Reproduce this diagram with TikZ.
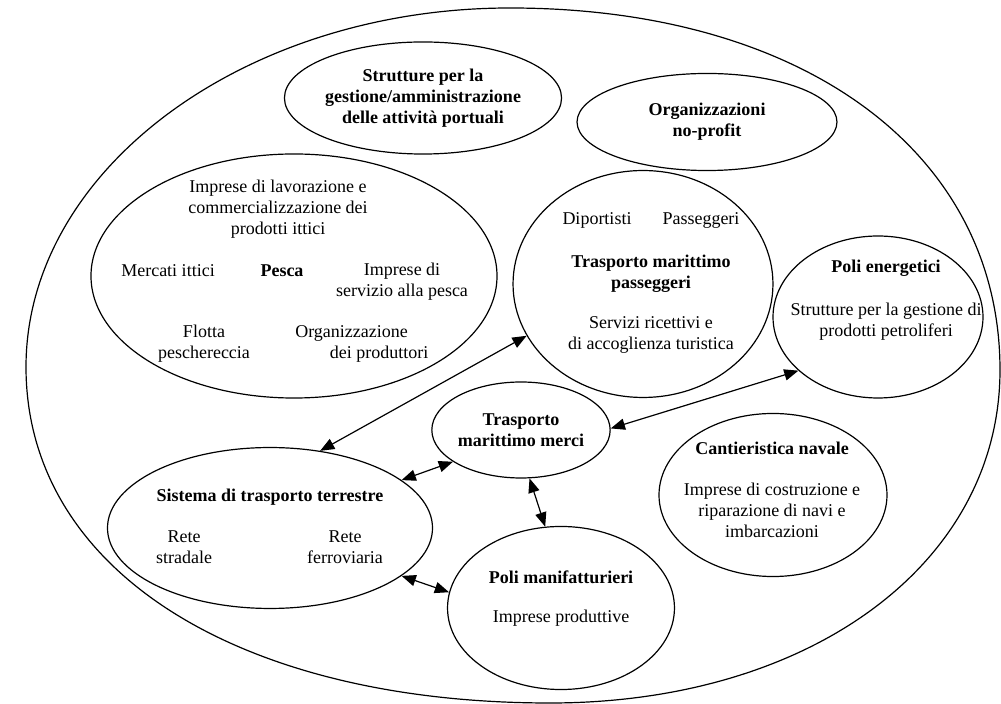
\documentclass[tikz,border=0pt]{standalone}
\usepackage{fontspec}
\setmainfont{Liberation Serif}
\usetikzlibrary{arrows.meta,shapes.geometric}
\tikzset{
  bubble/.style 2 args={
    ellipse, draw=black, line width=0.8pt, inner sep=0pt,
    minimum width=#1, minimum height=#2, align=center,
    font=\fontsize{12}{14}\selectfont\bfseries
  },
  bubtext/.style={inner sep=0pt, align=center, font=\fontsize{12}{14}\selectfont},
  bubtitle/.style={bubtext, font=\fontsize{12}{14}\selectfont\bfseries},
  linkarrow/.style={{Triangle[length=9.5pt,width=7.5pt]}-{Triangle[length=9.5pt,width=7.5pt]}, line width=0.8pt}
}
\begin{document}
\begin{tikzpicture}[x=0.6667pt,y=-0.6667pt]
\useasboundingbox (0,0) rectangle (1001,704);
% porto
\draw[line width=0.8pt] (510,8) .. controls (804,8) and (1000,153) .. (1000,370)
  .. controls (1000,563) and (811,703) .. (550,703)
  .. controls (236,703) and (26,569) .. (26,367)
  .. controls (26,170) and (244,8) .. cycle;

\node[bubble={162pt}{74.7pt}] (gestione) at (423,98) {Strutture per la\\gestione/amministrazione\\delle attività portuali};
\node[bubble={173.3pt}{64.7pt}] (noprofit) at (707,122) {Organizzazioni\\no-profit};

% pesca
\node[bubble={270.7pt}{162.7pt}] (pesca) at (294,276) {};
\node[bubtext] (lavoraz) at (278,209) {Imprese di lavorazione e\\commercializzazione dei\\prodotti ittici};
\node[bubtext] (mercati) at (168,271) {Mercati ittici};
\node[bubtitle] (pescaT) at (282,271) {Pesca};
\node[bubtext] (servpesca) at (402,281.5) {Imprese di\\servizio alla pesca};
\node[bubtext] (flotta) at (204,343.5) {Flotta\\peschereccia};
\node[bubtext, align=left, anchor=west] (orgprod) at (295,343.5) {Organizzazione\\\hspace*{23pt}dei produttori};

% passeggeri
\node[bubble={173.3pt}{151.3pt}] (passeggeri) at (643,284) {};
\node[bubtext] (diport) at (597,220) {Diportisti};
\node[bubtext] (passT) at (701,220) {Passeggeri};
\node[bubtitle] (passTitle) at (651,273.5) {Trasporto marittimo\\passeggeri};
\node[bubtext] (ricettivi) at (651,335) {Servizi ricettivi e\\di accoglienza turistica};

% energetici
\node[bubble={140pt}{108pt}] (energetici) at (878,317) {};
\node[bubtitle] (energT) at (886,268) {Poli energetici};
\node[bubtext] (petrol) at (886,321.5) {Strutture per la gestione di\\prodotti petroliferi};

% merci
\node[bubble={118.7pt}{64pt}] (merci) at (521,430) {Trasporto\\marittimo merci};

% cantieri
\node[bubble={152pt}{108.7pt}] (cantieri) at (773,495) {};
\node[bubtitle] (cantT) at (772,448) {Cantieristica navale};
\node[bubtext] (costruz) at (772,510) {Imprese di costruzione e\\riparazione di navi e\\imbarcazioni};

% terrestre
\node[bubble={216.7pt}{107.3pt}] (terrestre) at (270,528) {};
\node[bubtitle] (terrT) at (270,497) {Sistema di trasporto terrestre};
\node[bubtext] (stradale) at (184,547.5) {Rete\\stradale};
\node[bubtext] (ferrov) at (345,547.5) {Rete\\ferroviaria};

% manifatturieri
\node[bubble={151.3pt}{108.7pt}] (manif) at (561,608) {};
\node[bubtitle] (manifT) at (561,577) {Poli manifatturieri};
\node[bubtext] (produtt) at (561,618) {Imprese produttive};

\draw[linkarrow] (passeggeri.204) -- (terrestre.57);
\draw[linkarrow] (terrestre.20) -- (merci.205);
\draw[linkarrow] (terrestre.-20) -- (manif.172);
\draw[linkarrow] (merci.280) -- (manif.101);
\draw[linkarrow] (merci.1) -- (energetici.214);
\end{tikzpicture}
\end{document}
